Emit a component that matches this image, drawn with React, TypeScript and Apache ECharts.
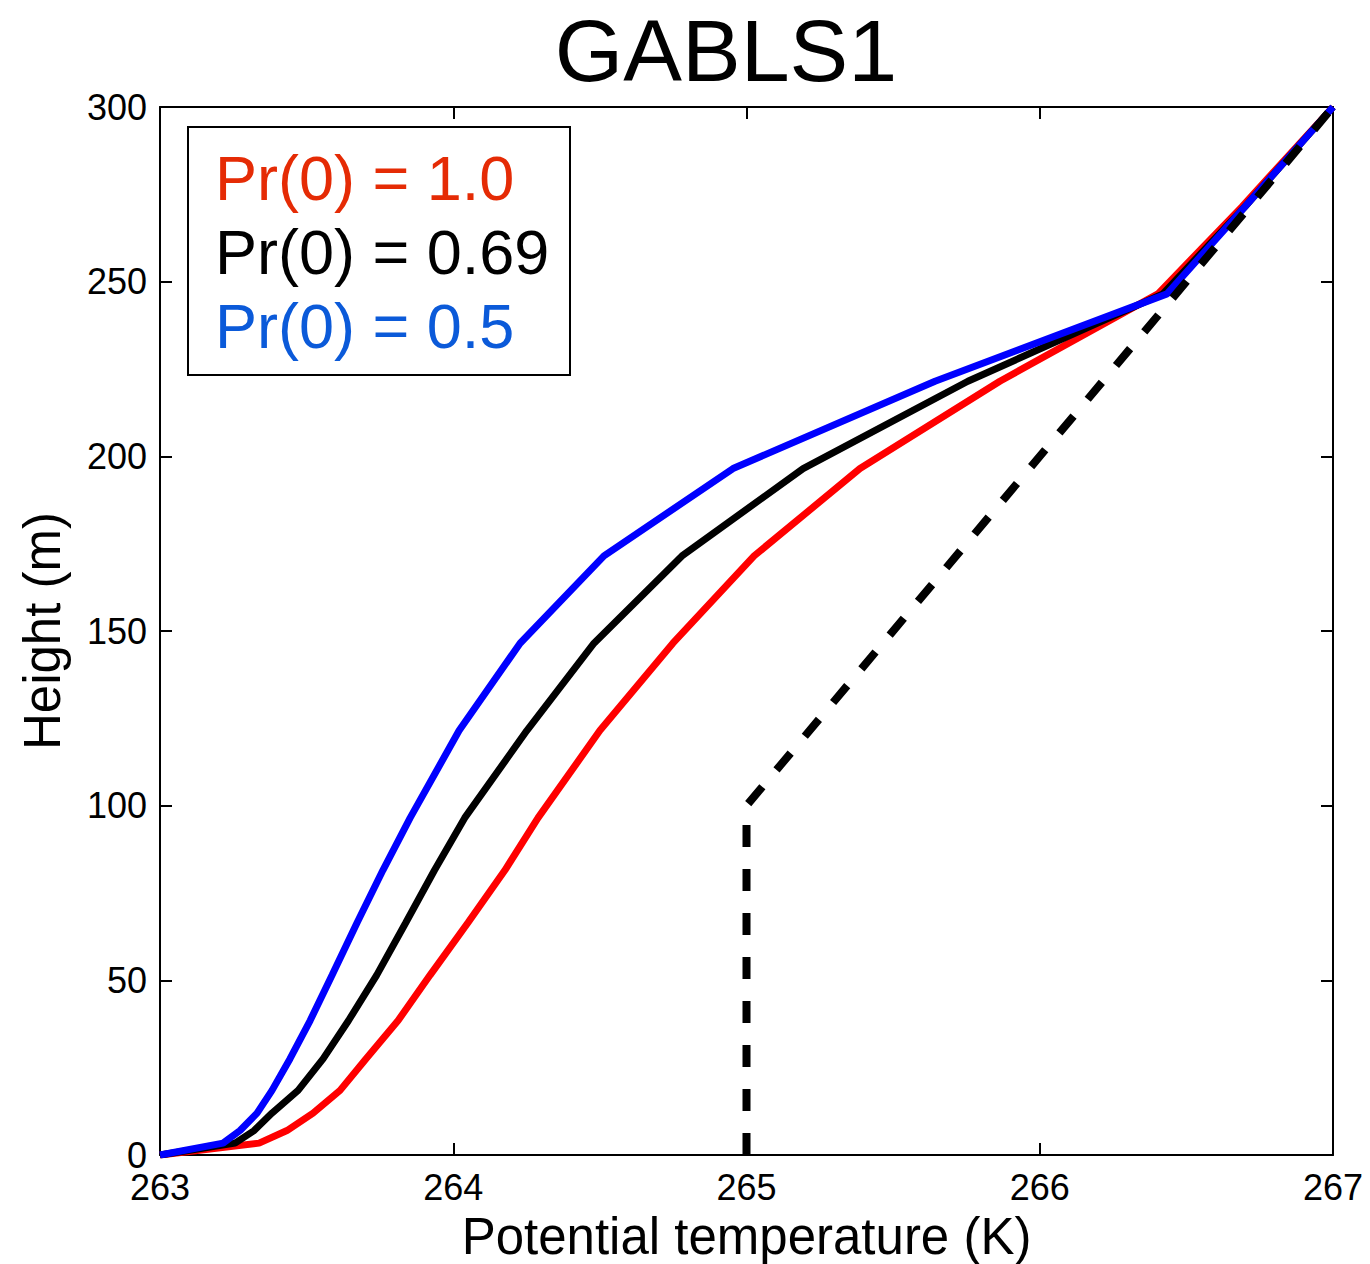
import React, { useEffect, useRef } from "react";
import * as echarts from "echarts";

const heights = [0, 3.4, 7, 12, 18.5, 27.5, 38.5, 51.5, 66.5, 81.5, 96.5, 121.5, 146.5, 171.5, 196.5, 221.5, 246.5, 271.5, 300];
const thetaPr10 = [263.0, 263.338, 263.433, 263.522, 263.614, 263.702, 263.812, 263.921, 264.05, 264.176, 264.289, 264.5, 264.749, 265.026, 265.387, 265.864, 266.403, 266.69, 267.0];
const thetaPr069 = [263.0, 263.256, 263.321, 263.382, 263.471, 263.556, 263.643, 263.739, 263.838, 263.936, 264.039, 264.251, 264.48, 264.78, 265.193, 265.755, 266.42, 266.7, 267.0];
const thetaPr05 = [263.0, 263.215, 263.273, 263.331, 263.382, 263.443, 263.512, 263.587, 263.672, 263.76, 263.853, 264.02, 264.228, 264.514, 264.954, 265.643, 266.434, 266.7, 267.0];
const initialTheta = [265, 265, 267];
const initialHeights = [0, 100, 300];

const legendLabels = ["Pr(0) = 1.0", "Pr(0) = 0.69", "Pr(0) = 0.5"];
const legendColors = ["#e52b05", "#000000", "#0b5ad9"];

const FONT = "Liberation Sans, Arial, Helvetica, sans-serif";

function pairs(xs: number[], ys: number[]) {
  return xs.map((x, i) => [x, ys[i]]);
}

export default function App() {
  const ref = useRef<HTMLDivElement>(null);
  useEffect(() => {
    if (!ref.current) return;
    const chart = echarts.init(ref.current, null, { renderer: "svg" });
    const tickStyle = { show: true, inside: true, length: 12, lineStyle: { color: "#000", width: 2 } };
    const axisLine = { show: true, onZero: false, lineStyle: { color: "#000", width: 2 } };
    chart.setOption({
      animation: false,
      backgroundColor: "#fff",
      grid: { left: 160, right: 37, top: 107, bottom: 109, containLabel: false, outerBoundsMode: "none" },
      xAxis: [
        {
          type: "value", min: 263, max: 267, interval: 1, position: "bottom",
          axisLine, axisTick: tickStyle, splitLine: { show: false },
          axisLabel: { color: "#000", fontSize: 36, fontFamily: FONT, margin: 14 },
          name: "Potential temperature (K)", nameLocation: "middle", nameGap: 56, nameMoveOverlap: false,
          nameTextStyle: { color: "#000", fontSize: 51, fontFamily: FONT },
        },
        {
          type: "value", min: 263, max: 267, interval: 1, position: "top",
          axisLine, axisTick: tickStyle, splitLine: { show: false }, axisLabel: { show: false },
        },
      ],
      yAxis: [
        {
          type: "value", min: 0, max: 300, interval: 50, position: "left",
          axisLine, axisTick: tickStyle, splitLine: { show: false },
          axisLabel: { color: "#000", fontSize: 36, fontFamily: FONT, margin: 13 },
          name: "Height (m)", nameLocation: "middle", nameGap: 92, nameRotate: 90, nameMoveOverlap: false,
          nameTextStyle: { color: "#000", fontSize: 51, fontFamily: FONT },
        },
        {
          type: "value", min: 0, max: 300, interval: 50, position: "right",
          axisLine, axisTick: tickStyle, splitLine: { show: false }, axisLabel: { show: false },
        },
      ],
      series: [
        {
          name: legendLabels[0], type: "line", xAxisIndex: 0, yAxisIndex: 0, symbol: "none",
          data: pairs(thetaPr10, heights), lineStyle: { color: "#ff0000", width: 7 }, z: 2,
        },
        {
          name: legendLabels[1], type: "line", xAxisIndex: 0, yAxisIndex: 0, symbol: "none",
          data: pairs(thetaPr069, heights), lineStyle: { color: "#000000", width: 7 }, z: 3,
        },
        {
          name: legendLabels[2], type: "line", xAxisIndex: 0, yAxisIndex: 0, symbol: "none",
          data: pairs(thetaPr05, heights), lineStyle: { color: "#0000ff", width: 7 }, z: 4,
        },
        {
          name: "initial", type: "line", xAxisIndex: 0, yAxisIndex: 0, symbol: "none",
          data: pairs(initialTheta, initialHeights),
          lineStyle: { color: "#000000", width: 8, type: [22, 22], cap: "butt" }, z: 5,
        },
      ],
      graphic: [
        {
          type: "text", x: 726, y: 50, z: 10,
          style: { text: "GABLS1", fontSize: 88, fontFamily: FONT, fill: "#000", textAlign: "center", textVerticalAlign: "middle" },
        },
        {
          type: "rect", z: 10,
          shape: { x: 188, y: 127, width: 382, height: 248 },
          style: { fill: "#fff", stroke: "#000", lineWidth: 2 },
        },
        ...legendLabels.map((t, i) => ({
          type: "text", x: 215, y: 178 + i * 74, z: 11,
          style: { text: t, fontSize: 63, fontFamily: FONT, fill: legendColors[i], textAlign: "left", textVerticalAlign: "middle" },
        })),
      ],
    });
    return () => chart.dispose();
  }, []);
  return <div ref={ref} style={{ width: 1370, height: 1264, position: "absolute", left: 0, top: 0 }} />;
}
